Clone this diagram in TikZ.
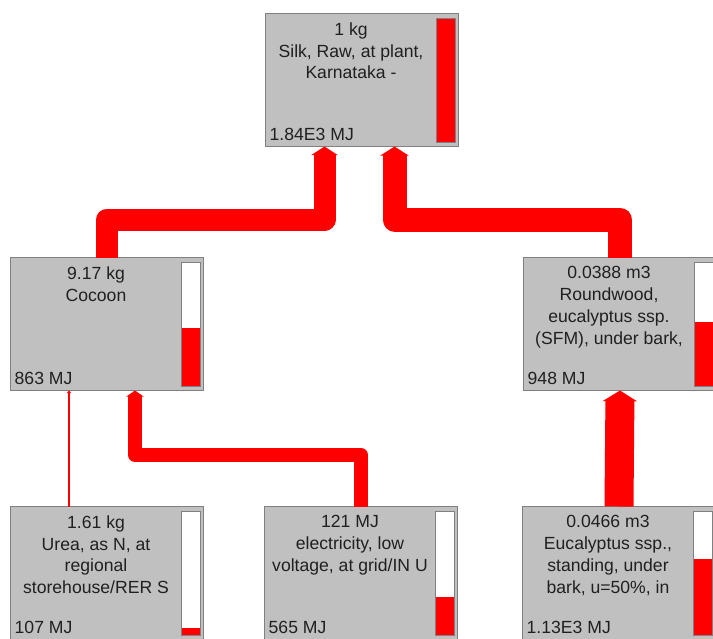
\documentclass[tikz,border=0pt]{standalone}
\usepackage{fontspec}
\setmainfont{Liberation Sans}
\usepackage{xcolor}
\usepackage{tikz}
\usetikzlibrary{arrows.meta, positioning, calc}
\definecolor{boxgray}{HTML}{C0C0C0}
\definecolor{edgegray}{HTML}{808080}
\definecolor{flowred}{HTML}{FF0000}
\definecolor{ink}{HTML}{202020}
\newcommand{\boxfont}{\fontsize{17.6}{21.7}\selectfont}
% share bar at the right of a process box (#2 = part of the top score)
\newcommand{\scorebar}[2]{%
  \fill[white] ($(#1.north east)+(-22,5)$) rectangle ($(#1.south east)+(-3,-4)$);
  \fill[flowred] ($(#1.south east)+(-22,-4)$) rectangle ($(#1.south east)+(-3,{-4-125*#2})$);
  \draw[barframe] ($(#1.north east)+(-22,5)$) rectangle ($(#1.south east)+(-3,-4)$);
}
\tikzset{
  proc/.style={rectangle, draw=edgegray, line width=1.5pt, fill=boxgray, minimum width=193pt, minimum height=133pt, inner sep=0pt, outer sep=0pt},
  title/.style={align=center, font=\boxfont, text=ink, inner sep=0pt},
  score/.style={font=\boxfont, text=ink, inner sep=0pt, anchor=base west},
  barframe/.style={draw=edgegray, line width=1.2pt},
  flow/.style={draw=flowred, line width=#1, line join=round, -{Triangle[length=2pt 0.3, width=2pt 1.1]}},
}

\begin{document}
\begin{tikzpicture}[x=1pt, y=-1pt]
\clip (0,0) rectangle (713,638);
% process boxes
\node[proc] (silk) at (362,80) {};
\node[proc] (cocoon) at (107,324) {};
\node[proc, right=320pt of cocoon] (round) {};
\node[proc, below=116pt of cocoon] (urea) {};
\node[proc, right=61pt of urea] (elec) {};
\node[proc, right=65pt of elec] (euca) {};
% names
\node[title, below=9pt of silk.north, xshift=-11pt] (silk-name) {1 kg\\Silk, Raw, at plant,\\Karnataka -};
\node[title, below=9pt of cocoon.north, xshift=-11pt] (cocoon-name) {9.17 kg\\Cocoon};
\node[title, below=9pt of round.north, xshift=-11pt] (round-name) {0.0388 m3\\Roundwood,\\eucalyptus ssp.\\(SFM), under bark,};
\node[title, below=9pt of urea.north, xshift=-11pt] (urea-name) {1.61 kg\\Urea, as N, at\\regional\\storehouse/RER S};
\node[title, below=9pt of elec.north, xshift=-11pt] (elec-name) {121 MJ\\electricity, low\\voltage, at grid/IN U};
\node[title, below=9pt of euca.north, xshift=-11pt] (euca-name) {0.0466 m3\\Eucalyptus ssp.,\\standing, under\\bark, u=50\%, in};
% scores
\node[score] (silk-mj) at ($(silk.south west)+(4,-6)$) {1.84E3 MJ};
\node[score] (cocoon-mj) at ($(cocoon.south west)+(4,-6)$) {863 MJ};
\node[score] (round-mj) at ($(round.south west)+(4,-6)$) {948 MJ};
\node[score] (urea-mj) at ($(urea.south west)+(4,-6)$) {107 MJ};
\node[score] (elec-mj) at ($(elec.south west)+(4,-6)$) {565 MJ};
\node[score] (euca-mj) at ($(euca.south west)+(4,-6)$) {1.13E3 MJ};
\scorebar{silk}{1}
\scorebar{cocoon}{0.469}
\scorebar{round}{0.515}
\scorebar{urea}{0.058}
\scorebar{elec}{0.307}
\scorebar{euca}{0.614}
% flows
\coordinate (upper) at (0,219.5);
\coordinate (lower) at (0,455);
\draw[flow=22pt] (cocoon.north) -- (cocoon.north |- upper) -| ($(silk.south)+(-37.5,0)$);
\draw[flow=24pt] (round.north) -- (round.north |- upper) -| ($(silk.south)+(32.5,0)$);
\draw[flow=14pt] (elec.north) -- (elec.north |- lower) -| ($(cocoon.south)+(28,0)$);
\draw[flow=2pt] ($(urea.north)+(-38,0)$) -- ($(cocoon.south)+(-38,0)$);
\draw[flow=29pt] (euca.north) -- (round.south);
\end{tikzpicture}
\end{document}
